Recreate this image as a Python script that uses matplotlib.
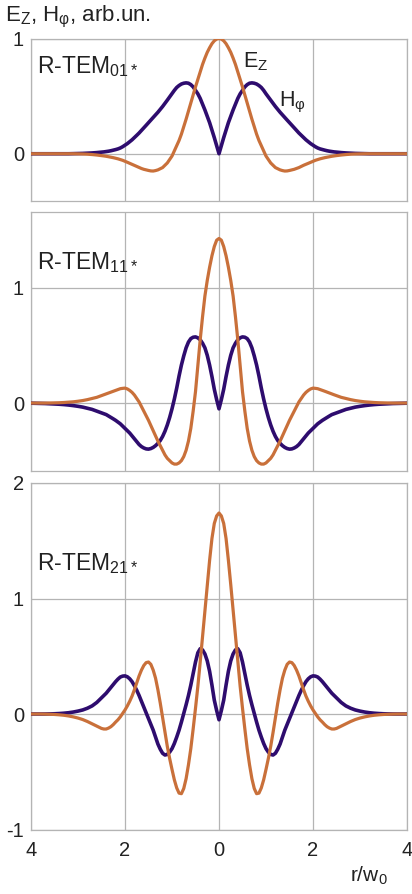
import matplotlib
matplotlib.use('Agg')
import matplotlib.pyplot as plt
import numpy as np

plt.rcParams['font.family'] = ['Liberation Sans', 'DejaVu Sans']
plt.rcParams['mathtext.fontset'] = 'custom'
plt.rcParams['mathtext.rm'] = 'Liberation Sans'
plt.rcParams['mathtext.it'] = 'Liberation Sans'
plt.rcParams['mathtext.bf'] = 'Liberation Sans'

# sample points r/w0 (right half, curves are mirrored to the left):
# 0 ... 2.5 every 0.05, then 2.6 ... 4.0 every 0.1
r_half = np.round(np.concatenate([np.arange(51) * 0.05, 2.5 + np.arange(1, 16) * 0.1]), 2)

# R-TEM01*
ez_01 = [1.00, 0.995, 0.98, 0.955, 0.92, 0.88, 0.83, 0.775, 0.71, 0.645,
         0.58, 0.51, 0.44, 0.37, 0.30, 0.235, 0.17, 0.115, 0.07, 0.025,
         -0.02, -0.05, -0.08, -0.10, -0.12, -0.13, -0.14, -0.146, -0.15, -0.149,
         -0.145, -0.14, -0.135, -0.128, -0.12, -0.11, -0.10, -0.092, -0.083, -0.074,
         -0.065, -0.057, -0.05, -0.044, -0.039, -0.034, -0.03, -0.026, -0.022, -0.019,
         -0.016,
         -0.011, -0.007, -0.004, -0.002, -0.001, 0, 0, 0, 0, 0, 0, 0, 0, 0, 0]
hphi_01 = [0.00, 0.07, 0.14, 0.205, 0.27, 0.325, 0.38, 0.43, 0.48, 0.52,
           0.55, 0.58, 0.60, 0.612, 0.615, 0.612, 0.605, 0.592, 0.575, 0.55,
           0.52, 0.493, 0.465, 0.437, 0.41, 0.385, 0.36, 0.337, 0.315, 0.292,
           0.27, 0.247, 0.225, 0.202, 0.18, 0.16, 0.14, 0.121, 0.104, 0.088,
           0.074, 0.061, 0.05, 0.042, 0.036, 0.031, 0.026, 0.022, 0.019, 0.016,
           0.014,
           0.01, 0.007, 0.005, 0.003, 0.002, 0.001, 0, 0, 0, 0, 0, 0, 0, 0, 0]

# R-TEM11*
ez_11 = [1.43, 1.415, 1.36, 1.28, 1.18, 1.065, 0.93, 0.75, 0.55, 0.33,
         0.10, -0.07, -0.22, -0.33, -0.41, -0.465, -0.50, -0.52, -0.53, -0.53,
         -0.52, -0.50, -0.48, -0.45, -0.41, -0.37, -0.33, -0.285, -0.24, -0.195,
         -0.15, -0.11, -0.07, -0.03, 0.01, 0.04, 0.07, 0.093, 0.11, 0.123,
         0.13, 0.128, 0.125, 0.118, 0.11, 0.103, 0.095, 0.087, 0.08, 0.072,
         0.065,
         0.05, 0.04, 0.03, 0.022, 0.016, 0.011, 0.008, 0.005, 0.003, 0.002,
         0.001, 0, 0, 0, 0]
hphi_11 = [-0.05, 0.03, 0.12, 0.23, 0.33, 0.415, 0.48, 0.52, 0.55, 0.567,
           0.575, 0.572, 0.56, 0.53, 0.48, 0.41, 0.33, 0.235, 0.13, 0.035,
           -0.05, -0.125, -0.19, -0.245, -0.29, -0.325, -0.35, -0.37, -0.385, -0.395,
           -0.40, -0.398, -0.39, -0.378, -0.36, -0.335, -0.31, -0.285, -0.26, -0.24,
           -0.22, -0.20, -0.18, -0.165, -0.15, -0.137, -0.125, -0.112, -0.10, -0.092,
           -0.085,
           -0.07, -0.055, -0.045, -0.035, -0.028, -0.022, -0.017, -0.013, -0.01, -0.008,
           -0.006, -0.004, -0.003, -0.002, -0.001]

# R-TEM21*
ez_21 = [1.74, 1.715, 1.65, 1.52, 1.33, 1.12, 0.90, 0.67, 0.45, 0.24,
         0.05, -0.13, -0.30, -0.44, -0.56, -0.645, -0.69, -0.685, -0.64, -0.57,
         -0.48, -0.385, -0.28, -0.16, -0.03, 0.095, 0.21, 0.31, 0.38, 0.43,
         0.45, 0.445, 0.42, 0.38, 0.33, 0.27, 0.21, 0.155, 0.11, 0.07,
         0.035, 0.005, -0.025, -0.05, -0.07, -0.092, -0.11, -0.122, -0.13, -0.13,
         -0.125,
         -0.105, -0.085, -0.065, -0.048, -0.035, -0.025, -0.017, -0.011, -0.007, -0.004,
         -0.002, -0.001, 0, 0, 0]
hphi_21 = [-0.05, 0.03, 0.12, 0.25, 0.37, 0.46, 0.52, 0.555, 0.565, 0.53,
           0.45, 0.35, 0.25, 0.16, 0.08, 0.005, -0.07, -0.14, -0.20, -0.255,
           -0.30, -0.33, -0.35, -0.355, -0.34, -0.305, -0.26, -0.20, -0.14, -0.09,
           -0.04, 0.01, 0.06, 0.11, 0.16, 0.205, 0.245, 0.28, 0.305, 0.322,
           0.33, 0.328, 0.32, 0.302, 0.28, 0.255, 0.23, 0.205, 0.18, 0.16,
           0.14,
           0.10, 0.07, 0.05, 0.035, 0.025, 0.017, 0.011, 0.007, 0.004, 0.002,
           0.001, 0, 0, 0, 0]

mode_names = [r'R-TEM$_{01*}$', r'R-TEM$_{11*}$', r'R-TEM$_{21*}$']
ez_all = [ez_01, ez_11, ez_21]
hphi_all = [hphi_01, hphi_11, hphi_21]
y_limits = [(-0.41, 1.0), (-0.59, 1.66), (-1.0, 2.0)]
y_ticks = [[0, 1], [0, 1], [-1, 0, 1, 2]]
label_y = [0.70, 1.16, 1.25]
x_ticks = [-4, -2, 0, 2, 4]
x_ticklabels = ['4', '2', '0', '2', '4']

C_EZ = '#c9703a'
C_H = '#2e0c6e'
GRID = '#b4b4b4'
TXT = '#222222'


def mirror(v):
    v = np.asarray(v, dtype=float)
    return np.concatenate([v[::-1], v[1:]])


r_full = np.concatenate([-r_half[::-1], r_half[1:]])

fig = plt.figure(figsize=(4.12, 8.94), dpi=100)
W, H = 412.0, 894.0
# panel boxes in pixels: (top, bottom)
boxes = [(38.5, 201), (212, 471), (483, 829.5)]
left, right = 31, 407

for i, (top, bot) in enumerate(boxes):
    ax = fig.add_axes([left / W, 1 - bot / H, (right - left) / W, (bot - top) / H])
    ax.plot(r_full, mirror(hphi_all[i]), color=C_H, lw=2.6, zorder=3)
    ax.plot(r_full, mirror(ez_all[i]), color=C_EZ, lw=2.3, zorder=4)
    ax.set_xlim(-4, 4)
    ax.set_ylim(*y_limits[i])
    ax.set_xticks(x_ticks)
    ax.set_yticks(y_ticks[i])
    ax.set_yticklabels([str(t) for t in y_ticks[i]])
    if i == 2:
        ax.set_xticklabels(x_ticklabels)
    else:
        ax.set_xticklabels([])
    ax.tick_params(length=0, labelsize=14.5, pad=5, colors=TXT)
    ax.tick_params(axis='x', pad=8)
    ax.grid(True, color=GRID, lw=0.9)
    for s in ax.spines.values():
        s.set_color(GRID)
        s.set_linewidth(0.9)
    ax.text(-3.87, label_y[i], mode_names[i], fontsize=16.5, color=TXT,
            ha='left', va='baseline')
    if i == 0:
        ax.text(0.52, 0.745, r'E$_{\mathrm{Z}}$', fontsize=15.5, color=TXT,
                ha='left', va='baseline')
        ax.text(1.28, 0.41, r'H$_{φ}$', fontsize=15.5, color=TXT,
                ha='left', va='baseline')

fig.text(5 / W, 1 - 21 / H, r'E$_{\mathrm{Z}}$, H$_{φ}$, arb.un.', fontsize=16,
         color=TXT, ha='left', va='baseline')
fig.text(350 / W, 1 - 882 / H, r'r/w$_0$', fontsize=15, color=TXT,
         ha='left', va='baseline')

fig.savefig('out.png', dpi=100)
plt.close(fig)
